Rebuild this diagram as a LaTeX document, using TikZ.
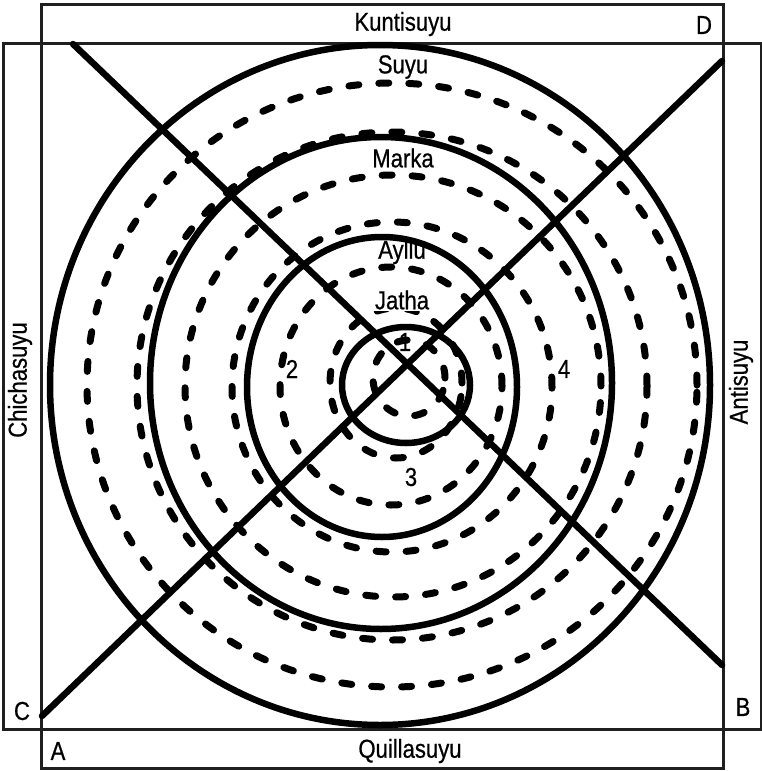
\documentclass[tikz,border=0pt]{standalone}
\usepackage{fontspec}
\setmainfont{Liberation Sans}[FakeStretch=0.85,FakeBold=0.6]
\begin{document}
\begin{tikzpicture}[x=1pt,y=-1pt,
  frame/.style={line width=3pt, draw=black!88},
  solidring/.style={line width=6.5pt, draw=black},
  dashring/.style={line width=7pt, draw=black, line cap=round, dash pattern=on 10pt off 20pt},
  diag/.style={line width=6.5pt, draw=black, line cap=round},
  lbl/.style={font=\fontsize{26}{28}\selectfont, inner sep=0pt, text=black}]
\useasboundingbox (0,0) rectangle (762,771);
\fill[white] (0,0) rectangle (762,771);
% frame
\draw[frame] (41,4) rectangle (723,768);
\draw[frame] (3,43) rectangle (761,729);
% solid rings
\draw[solidring] (380,385) ellipse [x radius=330pt, y radius=340pt];
\draw[solidring] (381,383) ellipse [x radius=231pt, y radius=246pt];
\draw[solidring] (382,387) ellipse [x radius=135pt, y radius=150pt];
\draw[solidring] (406,385) ellipse [x radius=64pt, y radius=58pt];
% dashed rings
\draw[dashring] (392,385) ellipse [x radius=305pt, y radius=302pt];
\draw[dashring] (392,386) ellipse [x radius=255pt, y radius=254pt];
\draw[dashring] (393,386) ellipse [x radius=208pt, y radius=211pt];
\draw[dashring] (392,387) ellipse [x radius=160pt, y radius=165pt];
\draw[dashring] (391,386) ellipse [x radius=111pt, y radius=119pt];
\draw[dashring] (396,383) ellipse [x radius=66pt, y radius=75pt];
\draw[dashring] (409,378) ellipse [x radius=36pt, y radius=38pt];
% diagonals
\coordinate (d1a) at (73,44);
\coordinate (d1b) at (722,665);
\coordinate (d2a) at (42,716);
\coordinate (d2b) at (722,61);
\draw[diag] (d1a) -- (d1b);
\draw[diag] (d2a) -- (d2b);
% labels
\node[lbl] (kunti) at (403,24) {Kuntisuyu};
\node[lbl] (quilla) at (410,751) {Quillasuyu};
\node[lbl, rotate=90] (chicha) at (20,380) {Chichasuyu};
\node[lbl, rotate=90] (anti) at (741,382) {Antisuyu};
\node[lbl] (lD) at (704,25) {D};
\node[lbl] (lC) at (22,711) {C};
\node[lbl] (lA) at (58,751) {A};
\node[lbl] (lB) at (743,707) {B};
\node[lbl] (suyu) at (403,67) {Suyu};
\node[lbl] (marka) at (403,158) {Marka};
\node[lbl] (ayllu) at (402,252) {Ayllu};
\node[lbl, fill=white, inner sep=1.5pt] (jatha) at (402,300) {Jatha};
\node[lbl] (n1) at (405,342) {1};
\node[lbl] (n2) at (292,369) {2};
\node[lbl] (n3) at (411,477) {3};
\node[lbl] (n4) at (564,369) {4};
\end{tikzpicture}
\end{document}
